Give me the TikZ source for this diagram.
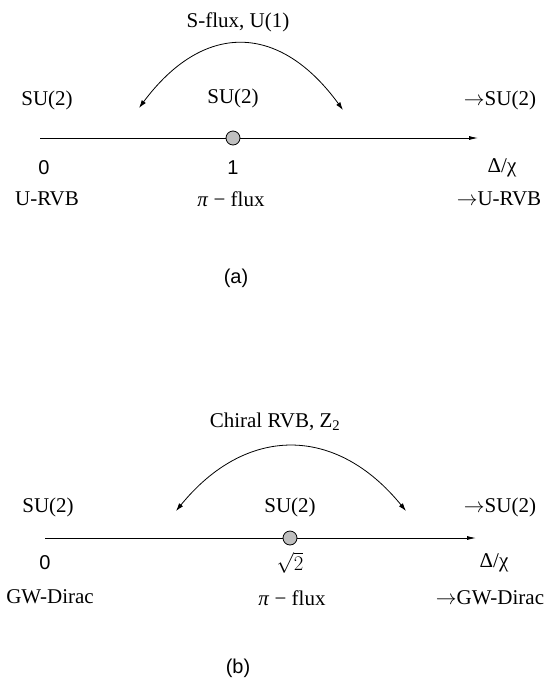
\documentclass[tikz,border=0pt]{standalone}
\usepackage{fontspec}
\setmainfont{Liberation Serif}
\setsansfont{Liberation Sans}
\usepackage{tikz}
\usetikzlibrary{arrows.meta,positioning}

\begin{document}
\begin{tikzpicture}[
x=1pt, y=-1pt,
font=\fontsize{21}{23}\selectfont,
lab/.style={inner sep=0pt},
num/.style={inner sep=0pt, font=\sffamily\fontsize{20}{22}\selectfont},
axis/.style={line width=0.8pt, -{Latex[length=9pt,width=4pt]}},
flow/.style={line width=0.8pt, {Latex[length=8pt,width=5pt]}-{Latex[length=8pt,width=5pt]}},
crit/.style={circle, draw, line width=0.8pt, fill=black!25, minimum size=14pt, inner sep=0pt}
]
\useasboundingbox (0,0) rectangle (547,681);

% (a)
\coordinate (a0) at (40,138);
\coordinate (aend) at (478,138);
\draw[axis] (a0) -- (aend);
\node[crit] (a1) at (233,138) {};
\coordinate (al) at (139,108);
\coordinate (ar) at (343,110);
\draw[flow] (al) .. controls (203,22) and (279,22) .. (ar);
\node[lab] (atop) at (238,22) {S-flux, U(1)};
\node[lab] (asul) at (47,100) {SU(2)};
\node[lab] (asum) at (233,98) {SU(2)};
\node[lab] (asur) at (500,100) {$\rightarrow$SU(2)};
\node[num] (azero) at (44,168) {0};
\node[num] (aone) at (233,168) {1};
\node[lab] (adel) at (502,168) {Δ/χ};
\node[lab] (arvb) at (47,199) {U-RVB};
\node[lab] (apif) at (231,199) {\textit{π} − flux};
\node[lab] (arvbr) at (499,199) {$\rightarrow$U-RVB};
\node[num] (acap) at (236,278) {(a)};

% (b)
\coordinate (b0) at (45,538);
\coordinate (bend) at (476,538);
\draw[axis] (b0) -- (bend);
\node[crit] (b1) at (290,538) {};
\coordinate (bl) at (176,511);
\coordinate (br) at (406,511);
\draw[flow] (bl) .. controls (246,425) and (336,425) .. (br);
\node[lab] (btop) at (275,422) {Chiral RVB, Z\textsubscript{2}};
\node[lab] (bsul) at (48,507) {SU(2)};
\node[lab] (bsum) at (290,507) {SU(2)};
\node[lab] (bsur) at (500,507) {$\rightarrow$SU(2)};
\node[num] (bzero) at (45,563) {0};
\node[lab] (bsq) at (290,563) {$\sqrt{2}$};
\node[lab] (bdel) at (494,563) {Δ/χ};
\node[lab] (bgw) at (50,597) {GW-Dirac};
\node[lab] (bpif) at (292,598) {\textit{π} − flux};
\node[lab] (bgwr) at (490,598) {$\rightarrow$GW-Dirac};
\node[num] (bcap) at (238,668) {(b)};
\end{tikzpicture}
\end{document}
